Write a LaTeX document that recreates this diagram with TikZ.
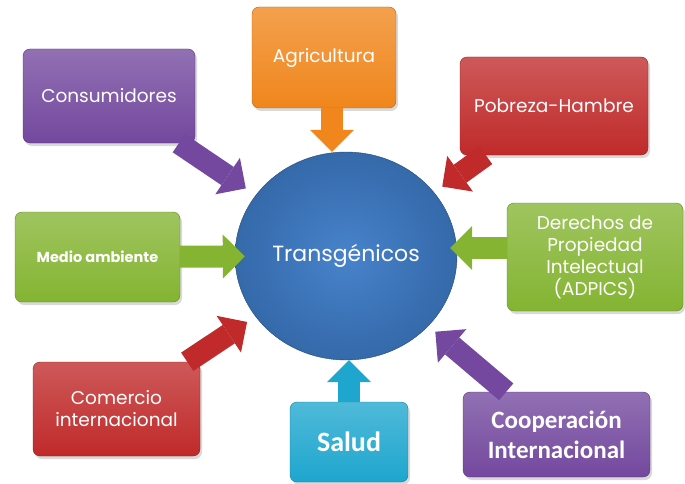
\documentclass[tikz,border=0pt]{standalone}
\usepackage{fontspec}
\setmainfont{Poppins}
\newfontfamily\calib{Carlito}
\usetikzlibrary{positioning, arrows.meta, shadows, shapes.geometric}
\definecolor{blueT}{RGB}{62,124,200}
\definecolor{orangeT}{RGB}{240,134,28}
\definecolor{purpleT}{RGB}{115,72,158}
\definecolor{redT}{RGB}{192,42,42}
\definecolor{greenT}{RGB}{132,180,50}
\definecolor{cyanT}{RGB}{30,166,206}
\tikzset{
  box/.style={rectangle, rounded corners=7pt, text=white, align=center, inner sep=2pt,
    top color=#1!78!white, bottom color=#1, draw=#1!75!black, thin,
    drop shadow={opacity=0.3, shadow xshift=2pt, shadow yshift=-3pt}}, % glossy box
  blk/.style={draw=#1, line width=22pt, -{Triangle[length=22pt, width=44pt, line width=0pt]}}, % block arrow
  lbl/.style={font=\fontsize{18.5}{22}\selectfont},
}

\begin{document}
\begin{tikzpicture}[x=1pt, y=-1pt]
    \useasboundingbox (0,0) rectangle (685,484);
    \node[ellipse, minimum width=222pt, minimum height=208pt, inner color=blueT!95!white, outer color=blueT!85!black,
      draw=blueT!60!black, text=white, font=\fontsize{22}{26}\selectfont] (trans) at (346,256) {Transgénicos};
    \node[box=orangeT, lbl, minimum width=144pt, minimum height=101pt] (agri) at (324,57.5) {Agricultura};
    \node[box=purpleT, lbl, minimum width=172pt, minimum height=94pt] (consum) at (109,96) {Consumidores};
    \node[box=redT, lbl, minimum width=188pt, minimum height=98pt] (pobreza) at (554,106) {Pobreza-Hambre};
    \node[box=greenT, minimum width=165pt, minimum height=90pt, font=\fontsize{14.5}{17}\selectfont\bfseries] (medio) at (97.5,257) {Medio ambiente};
    \node[box=greenT, lbl, minimum width=176pt, minimum height=108pt] (derechos) at (595,257) {Derechos de\\Propiedad\\Intelectual\\(ADPICS)};
    \node[box=redT, lbl, minimum width=167pt, minimum height=94pt] (comercio) at (116.5,409) {Comercio\\internacional};
    \node[box=cyanT, minimum width=118pt, minimum height=80pt, font=\calib\bfseries\fontsize{28}{32}\selectfont] (salud) at (349,442) {Salud};
    \node[box=purpleT, minimum width=187pt, minimum height=85pt, font=\calib\bfseries\fontsize{25}{30}\selectfont] (coop) at (556.5,434.5) {Cooperación\\Internacional};

    \draw[blk=orangeT] ([xshift=8pt]agri.south) -- ([xshift=8pt]agri.south |- trans.north);
    \draw[blk=cyanT] (salud.north) -- (salud.north |- trans.south);
    \draw[blk=greenT, shorten >=-10pt] (medio) -- (trans);
    \draw[blk=greenT, shorten >=-7pt] ([yshift=9pt]derechos.west) -- ([yshift=9pt]derechos.west -| trans.east);
    \draw[blk=purpleT, shorten >=12pt] (consum) -- (trans);
    \draw[blk=redT, shorten >=10pt] (pobreza) -- (trans);
    \draw[blk=redT, shorten >=10pt] (comercio) -- (trans);
    \draw[blk=purpleT, shorten >=9pt] (coop) -- (trans);
\end{tikzpicture}
\end{document}
